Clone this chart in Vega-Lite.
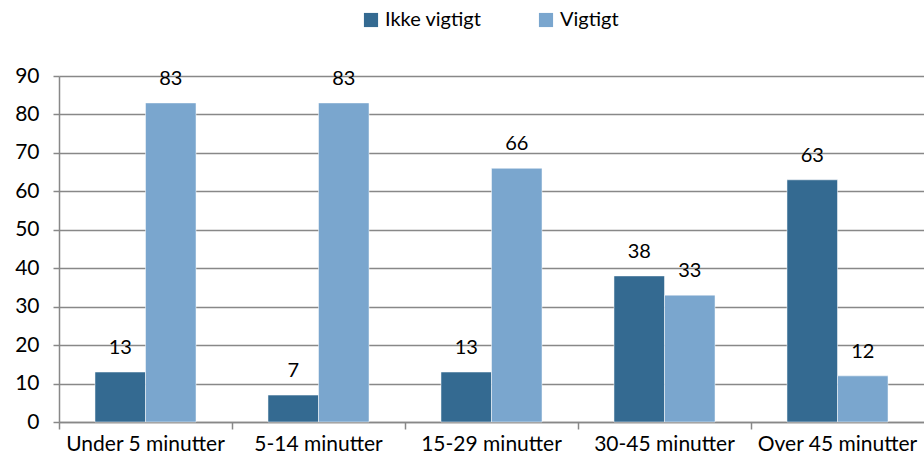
{
  "$schema": "https://vega.github.io/schema/vega-lite/v6.json",
  "width": 865,
  "height": 346,
  "autosize": {"type": "none"},
  "padding": {"left": 59, "top": 76, "right": 0, "bottom": 39},
  "background": "white",
  "config": {
    "font": "Lato",
    "view": {"stroke": null},
    "axis": {"domainColor": "#888888", "gridColor": "#888888", "labelColor": "#000000", "labelFontSize": 21, "labelFont": "Lato", "domainWidth": 1.5, "gridWidth": 1.5, "labelOverlap": false}
  },
  "data": {
    "values": [
      {"kategori": "Under 5 minutter", "serie": "Ikke vigtigt", "procent": 13},
      {"kategori": "Under 5 minutter", "serie": "Vigtigt", "procent": 83},
      {"kategori": "5-14 minutter", "serie": "Ikke vigtigt", "procent": 7},
      {"kategori": "5-14 minutter", "serie": "Vigtigt", "procent": 83},
      {"kategori": "15-29 minutter", "serie": "Ikke vigtigt", "procent": 13},
      {"kategori": "15-29 minutter", "serie": "Vigtigt", "procent": 66},
      {"kategori": "30-45 minutter", "serie": "Ikke vigtigt", "procent": 38},
      {"kategori": "30-45 minutter", "serie": "Vigtigt", "procent": 33},
      {"kategori": "Over 45 minutter", "serie": "Ikke vigtigt", "procent": 63},
      {"kategori": "Over 45 minutter", "serie": "Vigtigt", "procent": 12}
    ]
  },
  "resolve": {"axis": {"x": "independent"}},
  "encoding": {
    "xOffset": {"field": "serie", "type": "nominal", "sort": ["Ikke vigtigt", "Vigtigt"]},
    "y": {
      "field": "procent", "type": "quantitative",
      "scale": {"domain": [0, 90], "nice": false},
      "axis": {"title": null, "values": [0, 10, 20, 30, 40, 50, 60, 70, 80, 90], "tickCount": 10, "tickSize": 6, "tickWidth": 1.5, "tickColor": "#888888", "labelPadding": 14, "grid": true, "domain": true}
    }
  },
  "layer": [
    {
      "mark": {"type": "bar", "stroke": "white", "strokeWidth": 0.5},
      "encoding": {
        "x": {
          "field": "kategori", "type": "nominal",
          "sort": ["Under 5 minutter", "5-14 minutter", "15-29 minutter", "30-45 minutter", "Over 45 minutter"],
          "scale": {"paddingInner": 0.416, "paddingOuter": 0.208},
          "axis": {"title": null, "orient": "bottom", "labelAngle": 0, "ticks": false, "domain": true, "labelPadding": 11, "grid": false}
        },
        "color": {
          "field": "serie", "type": "nominal",
          "scale": {"domain": ["Ikke vigtigt", "Vigtigt"], "range": ["#346A91", "#7AA6CE"]},
          "legend": {"title": null, "orient": "none", "direction": "horizontal", "legendX": 302, "legendY": -66, "symbolType": "square", "symbolSize": 200, "symbolStrokeWidth": 0, "labelFontSize": 20, "labelFont": "Lato", "labelColor": "#000000", "columnPadding": 54, "symbolOffset": 0, "labelOffset": 4}
        }
      }
    },
    {
      "mark": {"type": "text", "baseline": "bottom", "dy": -14, "fontSize": 20, "font": "Lato", "color": "#000000"},
      "encoding": {
        "x": {
          "field": "kategori", "type": "nominal",
          "sort": ["Under 5 minutter", "5-14 minutter", "15-29 minutter", "30-45 minutter", "Over 45 minutter"],
          "axis": {"title": null, "orient": "bottom", "labels": false, "ticks": true, "tickOffset": -86.5, "tickSize": 7, "tickWidth": 1.5, "tickColor": "#888888", "domain": false, "grid": false}
        },
        "text": {"field": "procent", "type": "quantitative"}
      }
    }
  ]
}
